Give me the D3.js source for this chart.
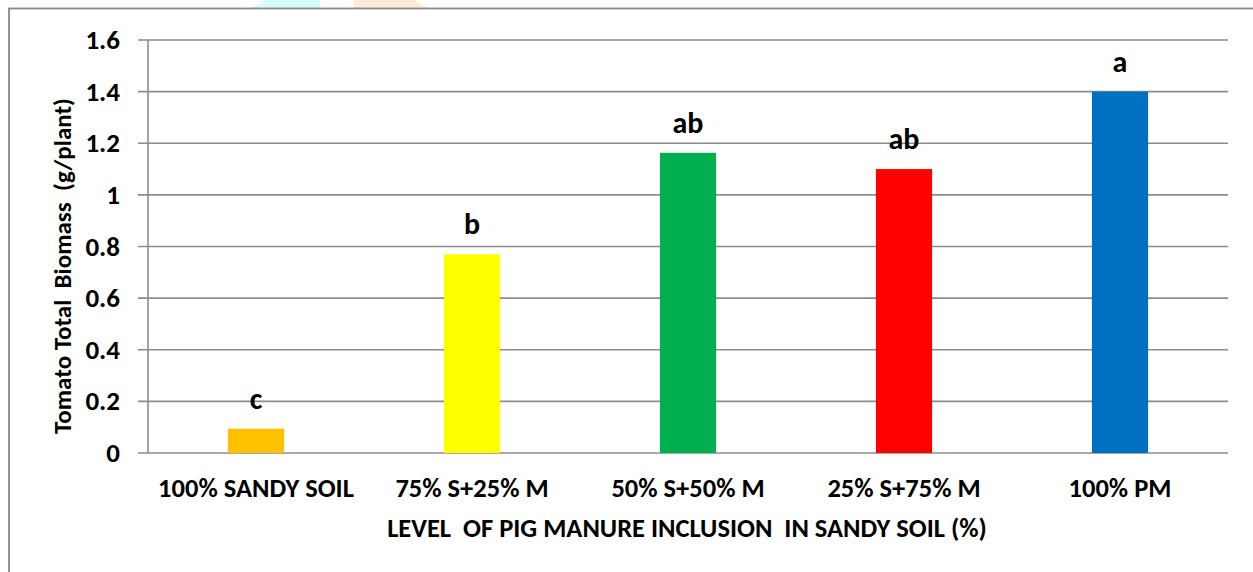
<!DOCTYPE html>
<html>
<head>
<meta charset="utf-8">
<style>
body { margin: 0; background: #fff; }
text { font-family: Carlito, Lato, "Liberation Sans", sans-serif; font-weight: 700; fill: #000; }
</style>
</head>
<body>
<script src="https://cdn.jsdelivr.net/npm/d3@7"></script>
<script>
var categories = ["100% SANDY SOIL", "75% S+25% M", "50% S+50% M", "25% S+75% M", "100% PM"];
var biomass = [0.094, 0.77, 1.163, 1.10, 1.40];
var letters = ["c", "b", "ab", "ab", "a"];
var barColors = ["#ffc000", "#ffff00", "#00b050", "#ff0000", "#0070c0"];
var yTicks = [0, 0.2, 0.4, 0.6, 0.8, 1, 1.2, 1.4, 1.6];

var width = 1253, height = 572;
var plotLeft = 148, plotRight = 1228, plotTop = 40, plotBottom = 453;

var svg = d3.select("body").append("svg")
    .attr("width", width)
    .attr("height", height);

// faint watermark shapes at the very top
svg.append("path").attr("d", "M250,8 L260,4 L264,0 L320,0 L320,8 Z").attr("fill", "#d5fbfb");
svg.append("path").attr("d", "M354,8 L354,0 L415,0 L420,4 L428,8 Z").attr("fill", "#fdebd8");

// chart border
svg.append("rect")
    .attr("x", 9).attr("y", 8.5)
    .attr("width", 1300).attr("height", 700)
    .attr("fill", "none")
    .attr("stroke", "#898989")
    .attr("stroke-width", 1.8);

var x = d3.scaleBand().domain(categories).range([plotLeft, plotRight]).paddingInner(0.74).paddingOuter(0.37);
var y = d3.scaleLinear().domain([0, 1.6]).range([plotBottom, plotTop]);

// gridlines + ticks
svg.append("g")
    .selectAll("line")
    .data(yTicks)
    .enter().append("line")
    .attr("x1", plotLeft - 10).attr("x2", plotRight)
    .attr("y1", d => y(d)).attr("y2", d => y(d))
    .attr("stroke", "#8c8c8c")
    .attr("stroke-width", 1.6);

svg.append("line")
    .attr("x1", plotLeft).attr("x2", plotLeft)
    .attr("y1", plotTop).attr("y2", plotBottom)
    .attr("stroke", "#8c8c8c")
    .attr("stroke-width", 1.6);

svg.append("g")
    .selectAll("text")
    .data(yTicks)
    .enter().append("text")
    .attr("x", 120)
    .attr("y", d => y(d) + 9)
    .attr("text-anchor", "end")
    .attr("font-size", "27px")
    .text(d => d);

// bars
svg.append("g")
    .selectAll("rect")
    .data(biomass)
    .enter().append("rect")
    .attr("x", (d, i) => x(categories[i]))
    .attr("y", d => y(d))
    .attr("width", x.bandwidth())
    .attr("height", d => plotBottom - y(d))
    .attr("fill", (d, i) => barColors[i]);

// significance letters
svg.append("g")
    .selectAll("text")
    .data(biomass)
    .enter().append("text")
    .attr("x", (d, i) => x(categories[i]) + x.bandwidth() / 2)
    .attr("y", d => y(d) - 20)
    .attr("text-anchor", "middle")
    .attr("font-size", "30px")
    .text((d, i) => letters[i]);

// category labels
svg.append("g")
    .selectAll("text")
    .data(categories)
    .enter().append("text")
    .attr("x", d => x(d) + x.bandwidth() / 2)
    .attr("y", 497)
    .attr("text-anchor", "middle")
    .attr("font-size", "26.5px")
    .text(d => d);

// axis titles
svg.append("text")
    .attr("x", 687)
    .attr("y", 537)
    .attr("text-anchor", "middle")
    .attr("font-size", "26.5px")
    .attr("xml:space", "preserve")
    .text("LEVEL  OF PIG MANURE INCLUSION  IN SANDY SOIL (%)");

svg.append("text")
    .attr("transform", "translate(71,266) rotate(-90)")
    .attr("text-anchor", "middle")
    .attr("font-size", "25px")
    .attr("xml:space", "preserve")
    .text("Tomato Total  Biomass  (g/plant)");
</script>
</body>
</html>
